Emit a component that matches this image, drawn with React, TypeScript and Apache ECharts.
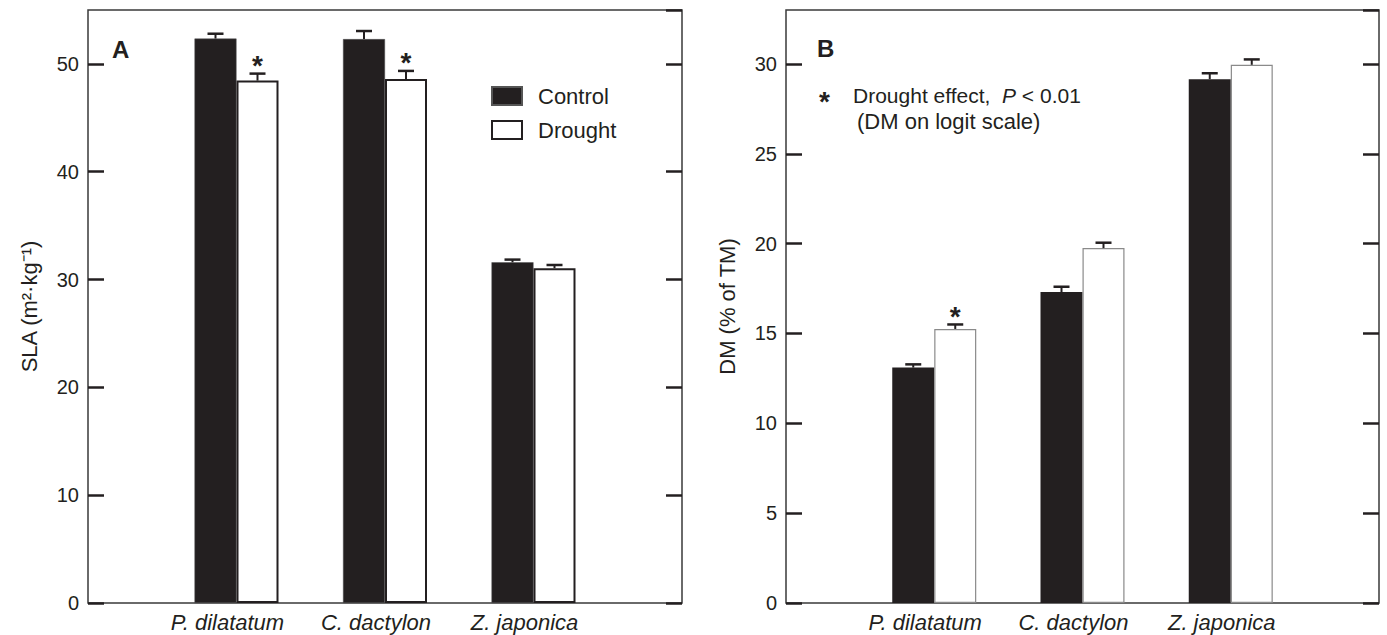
import React, { useEffect, useRef } from "react";
import * as echarts from "echarts";

const categories = ["P. dilatatum", "C. dactylon", "Z. japonica"];
const axisCats = ["", ...categories, ""];

const slaControl = [52.35, 52.3, 31.6];
const slaControlSE = [0.45, 0.75, 0.25];
const slaDrought = [48.45, 48.6, 31.05];
const slaDroughtSE = [0.65, 0.75, 0.3];
const slaSig = [1, 1, 0];

const dmControl = [13.1, 17.3, 29.15];
const dmControlSE = [0.18, 0.3, 0.33];
const dmDrought = [15.25, 19.75, 29.95];
const dmDroughtSE = [0.25, 0.3, 0.3];
const dmSig = [1, 0, 0];

const FONT = "'Liberation Sans', Arial, sans-serif";
const INK = "#231f20";
const BAR_W = 42;

function padded(vals: number[]) {
  return [null, ...vals, null];
}

function errData(vals: number[], se: number[], sig: number[]) {
  return vals.map((v, i) => [i + 1, v, se[i], sig[i]]);
}

function errSeries(name: string, data: any[], offset: number, axisIndex: number) {
  return {
    type: "custom",
    name: name + " SE",
    xAxisIndex: axisIndex,
    yAxisIndex: axisIndex * 2,
    z: 5,
    silent: true,
    encode: { x: 0, y: 1 },
    data,
    renderItem: (params: any, api: any) => {
      const ci = api.value(0);
      const v = api.value(1);
      const se = api.value(2);
      const sig = api.value(3);
      const base = api.coord([ci, v]);
      const top = api.coord([ci, v + se]);
      const cx = base[0] + offset;
      const children: any[] = [
        {
          type: "line",
          shape: { x1: cx, y1: base[1], x2: cx, y2: top[1] },
          style: { stroke: INK, lineWidth: 2 },
        },
        {
          type: "line",
          shape: { x1: cx - 8, y1: top[1], x2: cx + 8, y2: top[1] },
          style: { stroke: INK, lineWidth: 2.5 },
        },
      ];
      if (sig) {
        children.push({
          type: "text",
          style: {
            text: "*",
            x: cx,
            y: top[1] - 8,
            fill: INK,
            font: `bold 28px ${FONT}`,
            align: "center",
            verticalAlign: "middle",
          },
        });
      }
      return { type: "group", children };
    },
  };
}

export default function App() {
  const ref = useRef<HTMLDivElement>(null);
  useEffect(() => {
    document.body.style.margin = "0";
    const chart = echarts.init(ref.current!, null, { renderer: "svg" });

    const grids = [
      { left: 88, top: 10, width: 594, height: 593 },
      { left: 786, top: 10, width: 593, height: 593 },
    ].map((g) => ({
      ...g,
      show: true,
      borderColor: "#3a3a3a",
      borderWidth: 1.5,
      backgroundColor: "transparent",
    }));

    const xAxes = [0, 1].map((gi) => ({
      type: "category",
      gridIndex: gi,
      data: axisCats,
      boundaryGap: false,
      axisLine: { show: false },
      axisTick: { show: false },
      axisLabel: {
        color: INK,
        fontFamily: FONT,
        fontSize: 22,
        fontStyle: "italic",
        margin: 8,
        interval: 0,
        padding: [0, 18, 0, 0],
      },
      splitLine: { show: false },
    }));

    const yCommon = (gi: number, max: number, interval: number, pos: string, name: string) => ({
      type: "value",
      gridIndex: gi,
      position: pos,
      min: 0,
      max,
      interval,
      name,
      nameLocation: "middle",
      nameGap: 48,
      nameTextStyle: { color: INK, fontFamily: FONT, fontSize: 22 },
      axisLine: { show: false },
      axisTick: {
        show: true,
        inside: true,
        length: 16,
        lineStyle: { color: INK, width: 2.5 },
      },
      axisLabel: {
        show: pos === "left",
        color: INK,
        fontFamily: FONT,
        fontSize: 20,
        margin: 9,
        showMaxLabel: false,
      },
      splitLine: { show: false },
    });

    const yAxes = [
      yCommon(0, 55, 10, "left", "SLA (m²·kg⁻¹)"),
      { ...yCommon(0, 55, 10, "right", ""), name: "" },
      yCommon(1, 33, 5, "left", "DM (% of TM)"),
      { ...yCommon(1, 33, 5, "right", ""), name: "" },
    ];

    const option: any = {
      animation: false,
      backgroundColor: "#ffffff",
      grid: grids,
      xAxis: xAxes,
      yAxis: yAxes,
      legend: {
        data: ["Control", "Drought"],
        orient: "vertical",
        left: 486,
        top: 80,
        itemWidth: 30,
        itemHeight: 18,
        itemGap: 12,
        icon: "rect",
        selectedMode: false,
        textStyle: {
          color: INK,
          fontFamily: FONT,
          fontSize: 22,
          padding: [0, 0, 0, 11],
        },
      },
      graphic: [
        {
          type: "text",
          left: 112,
          top: 37,
          style: { text: "A", font: `bold 24px ${FONT}`, fill: INK },
        },
        {
          type: "text",
          left: 817,
          top: 36,
          style: { text: "B", font: `bold 24px ${FONT}`, fill: INK },
        },
        {
          type: "text",
          left: 819,
          top: 87,
          style: { text: "*", font: `bold 28px ${FONT}`, fill: INK },
        },
        {
          type: "text",
          left: 853,
          top: 85,
          style: {
            text: "Drought effect,  {i|P} < 0.01",
            font: `21px ${FONT}`,
            fill: INK,
            rich: {
              i: { fontStyle: "italic", fontSize: 21, fontFamily: FONT, fill: INK },
            },
          },
        },
        {
          type: "text",
          left: 857,
          top: 110,
          style: { text: "(DM on logit scale)", font: `22px ${FONT}`, fill: INK },
        },
      ],
      series: [
        {
          type: "bar",
          name: "Control",
          xAxisIndex: 0,
          yAxisIndex: 0,
          data: padded(slaControl),
          barWidth: BAR_W,
          barGap: "0%",
          itemStyle: { color: INK, borderColor: "#555", borderWidth: 0.5 },
        },
        {
          type: "bar",
          name: "Drought",
          xAxisIndex: 0,
          yAxisIndex: 0,
          data: padded(slaDrought),
          barWidth: BAR_W,
          barGap: "0%",
          itemStyle: { color: "#ffffff", borderColor: INK, borderWidth: 2 },
        },
        {
          type: "bar",
          name: "Control",
          xAxisIndex: 1,
          yAxisIndex: 2,
          data: padded(dmControl),
          barWidth: BAR_W,
          barGap: "0%",
          itemStyle: { color: INK },
        },
        {
          type: "bar",
          name: "Drought",
          xAxisIndex: 1,
          yAxisIndex: 2,
          data: padded(dmDrought),
          barWidth: BAR_W,
          barGap: "0%",
          itemStyle: { color: "#ffffff", borderColor: "#8a8a8a", borderWidth: 1.2 },
        },
        errSeries("Control", errData(slaControl, slaControlSE, [0, 0, 0]), -BAR_W / 2, 0),
        errSeries("Drought", errData(slaDrought, slaDroughtSE, slaSig), BAR_W / 2, 0),
        errSeries("Control", errData(dmControl, dmControlSE, [0, 0, 0]), -BAR_W / 2, 1),
        errSeries("Drought", errData(dmDrought, dmDroughtSE, dmSig), BAR_W / 2, 1),
      ],
    };
    chart.setOption(option);
    return () => chart.dispose();
  }, []);
  return <div ref={ref} style={{ width: 1387, height: 635 }} />;
}
